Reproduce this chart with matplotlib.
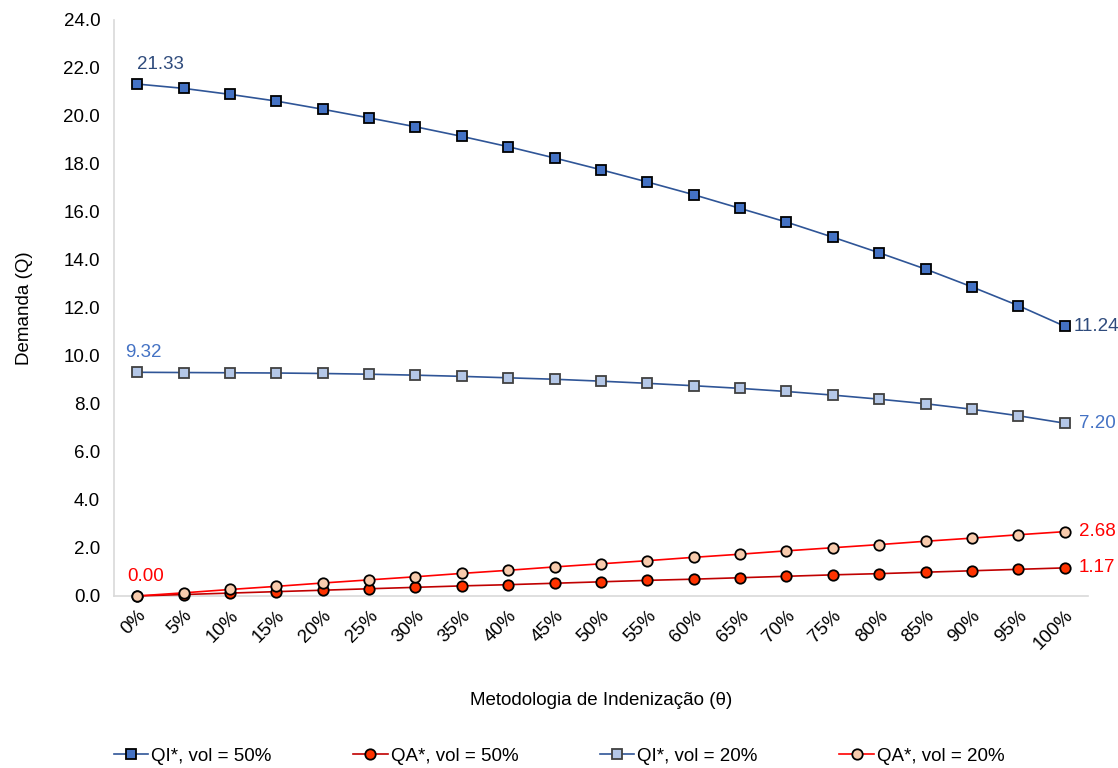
import matplotlib
matplotlib.use("Agg")
import matplotlib.pyplot as plt

plt.rcParams['font.family'] = ['Liberation Sans', 'DejaVu Sans']

theta = ['0%', '5%', '10%', '15%', '20%', '25%', '30%', '35%', '40%', '45%', '50%',
         '55%', '60%', '65%', '70%', '75%', '80%', '85%', '90%', '95%', '100%']

qi_50 = [21.33, 21.15, 20.90, 20.62, 20.28, 19.92, 19.55, 19.15, 18.72, 18.25, 17.76,
         17.25, 16.72, 16.15, 15.58, 14.95, 14.30, 13.62, 12.88, 12.10, 11.24]
qa_50 = [0.00, 0.06, 0.12, 0.18, 0.24, 0.30, 0.36, 0.42, 0.47, 0.53, 0.59,
         0.65, 0.70, 0.76, 0.82, 0.88, 0.93, 0.99, 1.05, 1.11, 1.17]
qi_20 = [9.32, 9.31, 9.30, 9.29, 9.27, 9.24, 9.20, 9.15, 9.09, 9.03, 8.95,
         8.86, 8.76, 8.65, 8.52, 8.37, 8.20, 8.01, 7.78, 7.51, 7.20]
qa_20 = [0.00, 0.13, 0.27, 0.40, 0.54, 0.67, 0.80, 0.94, 1.07, 1.21, 1.34,
         1.47, 1.61, 1.74, 1.88, 2.01, 2.14, 2.28, 2.41, 2.55, 2.68]

x = list(range(len(theta)))
fs = 13.5

fig = plt.figure(figsize=(11.18, 7.68), dpi=100)
ax = fig.add_axes([0.102, 0.224, 0.871, 0.750])

ax.plot(x, qi_50, color='#2F5597', lw=1.2, marker='s', ms=7.5, clip_on=False, zorder=3,
        mfc='#4472C4', mec='black', mew=1.3, label='QI*, vol = 50%')
ax.plot(x, qa_50, color='#C00000', lw=1.2, marker='o', ms=7.5, clip_on=False, zorder=3,
        mfc='#FF3300', mec='black', mew=1.3, label='QA*, vol = 50%')
ax.plot(x, qi_20, color='#2F5597', lw=1.2, marker='s', ms=7.5, clip_on=False, zorder=3,
        mfc='#B4C7E7', mec='#404040', mew=1.3, label='QI*, vol = 20%')
ax.plot(x, qa_20, color='#FF0000', lw=1.2, marker='o', ms=7.5, clip_on=False, zorder=4,
        mfc='#F8CBAD', mec='black', mew=1.3, label='QA*, vol = 20%')

# valores nas extremidades
ax.annotate(f'{qi_50[0]:.2f}', (x[0], qi_50[0]), xytext=(0, 8), textcoords='offset points',
            ha='left', va='bottom', fontsize=fs, color='#2F4B7C')
ax.annotate(f'{qi_20[0]:.2f}', (x[0], qi_20[0]), xytext=(-9, 8), textcoords='offset points',
            ha='left', va='bottom', fontsize=fs, color='#4472C4')
ax.annotate(f'{qa_20[0]:.2f}', (x[0], qa_20[0]), xytext=(-7, 8), textcoords='offset points',
            ha='left', va='bottom', fontsize=fs, color='#FF0000')
ax.annotate(f'{qi_50[-1]:.2f}', (x[-1], qi_50[-1]), xytext=(6.5, 0), textcoords='offset points',
            ha='left', va='center', fontsize=fs, color='#2F4B7C')
ax.annotate(f'{qi_20[-1]:.2f}', (x[-1], qi_20[-1]), xytext=(10, 0), textcoords='offset points',
            ha='left', va='center', fontsize=fs, color='#4472C4')
ax.annotate(f'{qa_20[-1]:.2f}', (x[-1], qa_20[-1]), xytext=(10, 0), textcoords='offset points',
            ha='left', va='center', fontsize=fs, color='#FF0000')
ax.annotate(f'{qa_50[-1]:.2f}', (x[-1], qa_50[-1]), xytext=(10, 0), textcoords='offset points',
            ha='left', va='center', fontsize=fs, color='#FF0000')

ax.set_xlim(-0.5, len(theta) - 0.5)
ax.set_ylim(0, 24)
ax.set_yticks(range(0, 25, 2))
ax.set_yticklabels([f'{v:.1f}' for v in range(0, 25, 2)], fontsize=fs)
ax.set_xticks(x)
ax.set_xticklabels(theta, fontsize=fs, rotation=45, ha='right', rotation_mode='anchor')
ax.tick_params(length=0)
ax.tick_params(axis='y', pad=10)
ax.tick_params(axis='x', pad=8)

for s in ['top', 'right']:
    ax.spines[s].set_visible(False)
for s in ['left', 'bottom']:
    ax.spines[s].set_color('#D9D9D9')
    ax.spines[s].set_linewidth(1.2)

ax.set_ylabel('Demanda (Q)', fontsize=fs, labelpad=22)
ax.set_xlabel('Metodologia de Indenização (θ)', fontsize=fs, labelpad=28)

fig.legend(loc='center', bbox_to_anchor=(0.5, 0.015), ncol=4, frameon=False,
           fontsize=fs, handlelength=1.85, handletextpad=0.15, columnspacing=4.35)

fig.savefig('out.png', dpi=100)
